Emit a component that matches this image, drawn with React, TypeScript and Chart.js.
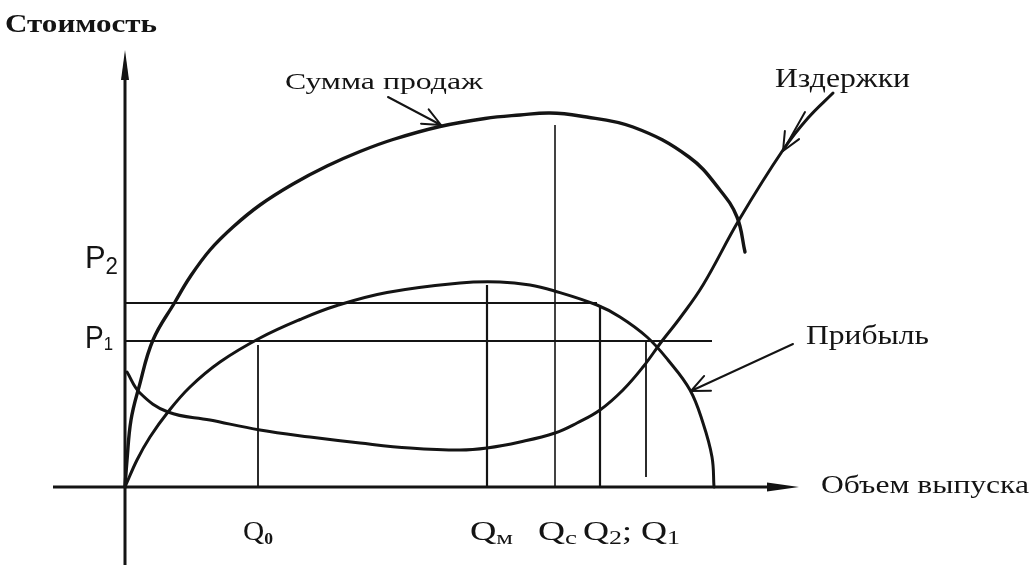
import React, { useEffect, useRef } from "react";
import { Chart, registerables } from "chart.js";

Chart.register(...registerables);

// ---- Data (output volume Q, value in cost units) ----
const salesQ = [0, 0.2, 0.6, 1.4, 2.8, 5, 6.5, 8.5, 10.8, 13.5, 16.8, 20.2, 23.5, 26.8, 31.5, 36, 39.5, 42.5, 45.5, 50.8, 56.4, 59.5, 61.2, 62];
const salesV = [0, 5.4, 13.4, 20, 29.4, 37, 42, 47.4, 52, 56.4, 60.6, 64.2, 67.1, 69.5, 72.1, 73.7, 74.4, 74.8, 74.2, 72, 66, 59.4, 54, 47];

const profitQ = [0, 1.2, 2.5, 4.3, 6.5, 9.5, 13.5, 17.5, 21.2, 26.2, 33.5, 37.5, 40.5, 42.8, 47.2, 49.5, 52.2, 54.3, 56.5, 57.8, 58.7, 58.9];
const profitV = [0, 5.4, 10, 15, 20, 25, 29.8, 33.5, 36.3, 38.9, 40.8, 41, 40.4, 39.3, 36.4, 34, 30, 25.4, 19.4, 12.8, 6, 0];

const costQ = [0.2, 1.5, 4.3, 8.5, 13.5, 18.5, 23.5, 28.5, 33.5, 36.2, 39.5, 43, 45.2, 47.5, 49.8, 51.8, 53.7, 55.5, 57.8, 61.4, 65.8, 68.3, 70.8];
const costV = [23, 18.8, 15, 13.4, 11.4, 10, 8.8, 7.8, 7.4, 7.8, 9, 10.8, 12.8, 15.4, 19.4, 24, 29.2, 33.8, 40.4, 53.4, 67.4, 73.8, 78.8];

// Marked volumes on the horizontal axis and how high their guide lines reach
const qMarks = [13.3, 36.2, 43, 47.5, 52.1];
const qTops = [28.4, 40.4, 72.4, 36.4, 29.4];
const qBottoms = [0, 0, 0, 0, 2];

// Price levels on the vertical axis and where their guide lines end
const pLevels = [29.2, 36.8];
const pEnds = [58.7, 47.2];

// Axis extents
const xAxisLine = [-7.2, 65];
const xAxisTip = 67.4;
const yAxisLine = [-15.6, 83];
const yAxisTip = 87.4;

// Texts
const yTitle = "Стоимость";
const xTitle = "Объем выпуска";
const salesLabel = "Сумма продаж";
const costLabel = "Издержки";
const profitLabel = "Прибыль";

// ---- Layout / style ----
const INK = "#141414";
const SERIF = '"Liberation Serif", "Times New Roman", serif';
const SANS = '"Liberation Sans", Arial, sans-serif';
const guideWidths = [1.8, 2.2, 1.6, 2.2, 1.8];

type Part = { t: string; sub?: boolean; weight?: string };
type Label = { parts: Part[]; x: number; y: number; size: number; w: number; family: string; weight?: string; subRatio?: number; subDy?: number };

const labels: Label[] = [
  { parts: [{ t: yTitle }], x: -12, y: 91, size: 26, w: 152, family: SERIF, weight: "bold" },
  { parts: [{ t: salesLabel }], x: 16, y: 79.6, size: 23, w: 198, family: SERIF },
  { parts: [{ t: costLabel }], x: 65, y: 80, size: 27, w: 135, family: SERIF },
  { parts: [{ t: profitLabel }], x: 68.1, y: 28.6, size: 27, w: 123, family: SERIF },
  { parts: [{ t: xTitle }], x: 69.6, y: -1.2, size: 26, w: 208, family: SERIF },
  { parts: [{ t: "P" }, { t: "2", sub: true }], x: -4, y: 43.8, size: 32, w: 33, family: SANS, subRatio: 0.72, subDy: 6 },
  { parts: [{ t: "P" }, { t: "1", sub: true }], x: -4, y: 27.8, size: 32, w: 28, family: SANS, subRatio: 0.6, subDy: 2 },
  { parts: [{ t: "Q" }, { t: "0", sub: true, weight: "bold" }], x: 11.8, y: -10.6, size: 27, w: 30, family: SERIF, subRatio: 0.6, subDy: 4 },
  { parts: [{ t: "Q" }, { t: "м", sub: true }], x: 34.5, y: -10.6, size: 27, w: 43, family: SERIF, subRatio: 0.72, subDy: 4 },
  { parts: [{ t: "Q" }, { t: "c", sub: true }], x: 41.3, y: -10.6, size: 27, w: 39, family: SERIF, subRatio: 0.72, subDy: 4 },
  { parts: [{ t: "Q" }, { t: "2", sub: true }, { t: "; " }, { t: "Q" }, { t: "1", sub: true }], x: 45.8, y: -10.6, size: 27, w: 97, family: SERIF, subRatio: 0.72, subDy: 4 },
];

// Pointer arrows: [fromQ, fromV, toQ, toV]
const pointers = [
  [26.3, 78, 31.6, 72.4],
  [68, 75, 65.8, 67.2],
  [66.8, 28.6, 56.6, 19.2],
];

function drawLabel(ctx: CanvasRenderingContext2D, l: Label, px: number, py: number) {
  const subSize = l.size * (l.subRatio || 0.65);
  const fontOf = (p: Part) => `${p.weight || l.weight || "normal"} ${p.sub ? subSize : l.size}px ${l.family}`;
  let total = 0;
  const ws: number[] = [];
  for (const p of l.parts) {
    ctx.font = fontOf(p);
    const w = ctx.measureText(p.t).width;
    ws.push(w);
    total += w;
  }
  const s = l.w / total;
  ctx.save();
  ctx.translate(px, py);
  ctx.scale(s, 1);
  ctx.textBaseline = "alphabetic";
  ctx.textAlign = "left";
  let cx = 0;
  l.parts.forEach((p, i) => {
    ctx.font = fontOf(p);
    ctx.fillText(p.t, cx, p.sub ? l.subDy || 4 : 0);
    cx += ws[i];
  });
  ctx.restore();
}

function filledHead(ctx: CanvasRenderingContext2D, tx: number, ty: number, dx: number, dy: number, len: number, hw: number) {
  const n = Math.hypot(dx, dy);
  const ux = dx / n, uy = dy / n;
  const bx = tx - ux * len, by = ty - uy * len;
  ctx.beginPath();
  ctx.moveTo(tx, ty);
  ctx.lineTo(bx - uy * hw, by + ux * hw);
  ctx.lineTo(bx + uy * hw, by - ux * hw);
  ctx.closePath();
  ctx.fill();
}

function openArrow(ctx: CanvasRenderingContext2D, x1: number, y1: number, x2: number, y2: number) {
  ctx.beginPath();
  ctx.moveTo(x1, y1);
  ctx.lineTo(x2, y2);
  const ang = Math.atan2(y1 - y2, x1 - x2);
  const len = 20;
  const spread = 0.42;
  ctx.moveTo(x2 + Math.cos(ang + spread) * len, y2 + Math.sin(ang + spread) * len);
  ctx.lineTo(x2, y2);
  ctx.lineTo(x2 + Math.cos(ang - spread) * len, y2 + Math.sin(ang - spread) * len);
  ctx.stroke();
}

const overlay = {
  id: "overlay",
  afterDatasetsDraw(chart: any) {
    const ctx: CanvasRenderingContext2D = chart.ctx;
    const X = (q: number) => chart.scales.x.getPixelForValue(q);
    const Y = (v: number) => chart.scales.y.getPixelForValue(v);
    ctx.save();
    ctx.fillStyle = INK;
    ctx.strokeStyle = INK;
    ctx.lineCap = "round";
    ctx.lineJoin = "round";
    filledHead(ctx, X(xAxisTip), Y(0), 1, 0, 32, 4.5);
    filledHead(ctx, X(0), Y(yAxisTip), 0, -1, 30, 4);
    ctx.lineWidth = 2;
    for (const [a, b, c, d] of pointers) openArrow(ctx, X(a), Y(b), X(c), Y(d));
    for (const l of labels) drawLabel(ctx, l, X(l.x), Y(l.y));
    ctx.restore();
  },
};

export default function App() {
  const ref = useRef<HTMLCanvasElement>(null);
  useEffect(() => {
    const canvas = ref.current!;
    const pts = (xs: number[], ys: number[]) => xs.map((x, i) => ({ x, y: ys[i] }));
    const curve = (data: any[], width: number) => ({
      data,
      showLine: true,
      borderColor: INK,
      borderWidth: width,
      pointRadius: 0,
      tension: 0.4,
      borderCapStyle: "round",
      borderJoinStyle: "round",
      fill: false,
    });
    const straight = (data: any[], width: number) => ({ ...curve(data, width), tension: 0, borderCapStyle: "butt" });
    const datasets: any[] = [
      curve(pts(salesQ, salesV), 3.4),
      curve(pts(profitQ, profitV), 3),
      curve(pts(costQ, costV), 3),
      ...qMarks.map((q, i) => straight([{ x: q, y: qBottoms[i] }, { x: q, y: qTops[i] }], guideWidths[i])),
      ...pLevels.map((p, i) => straight([{ x: 0, y: p }, { x: pEnds[i], y: p }], 2.2)),
      straight([{ x: xAxisLine[0], y: 0 }, { x: xAxisLine[1], y: 0 }], 3),
      straight([{ x: 0, y: yAxisLine[0] }, { x: 0, y: yAxisLine[1] }], 3),
    ];
    const chart = new Chart(canvas, {
      type: "scatter",
      data: { datasets },
      options: {
        animation: false,
        responsive: true,
        maintainAspectRatio: false,
        events: [],
        layout: { padding: 0 },
        plugins: { legend: { display: false }, tooltip: { enabled: false } },
        scales: {
          x: { type: "linear", min: -12.5, max: 91.1, display: false },
          y: { type: "linear", min: -16.4, max: 97.4, display: false },
        },
      },
      plugins: [overlay],
    } as any);
    return () => chart.destroy();
  }, []);
  return (
    <div style={{ position: "absolute", left: 0, top: 0, width: 1036, height: 569, background: "#fff" }}>
      <canvas ref={ref} style={{ display: "block" }} />
    </div>
  );
}
